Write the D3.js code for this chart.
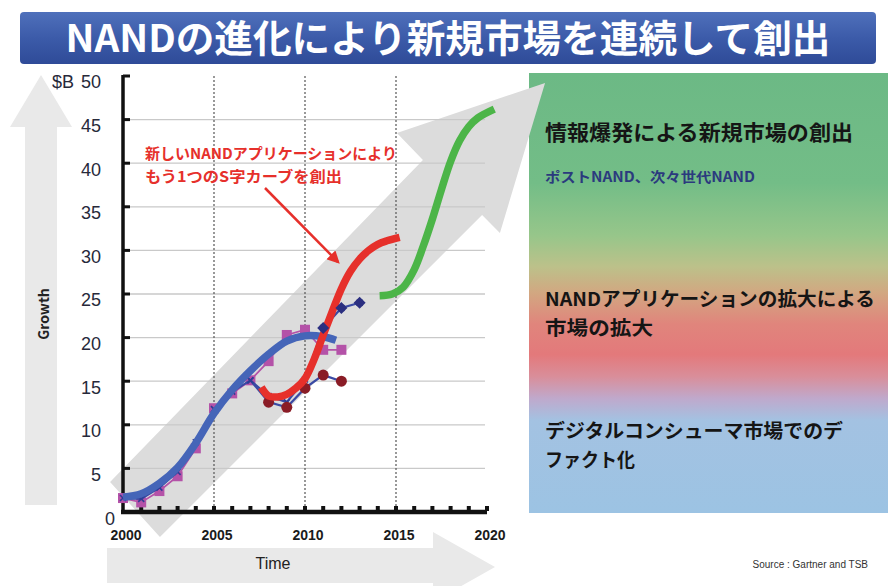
<!DOCTYPE html>
<meta charset="utf-8">
<style>
  body { margin: 0; background: #fff; }
  svg { display: block; }
  .num { font-family: "Liberation Sans Narrow", "Arial Narrow", "Liberation Sans", sans-serif; }
  .jp { font-family: "Noto Sans CJK JP", "Noto Sans", sans-serif; font-weight: 700; }
  .grid line { stroke: #c9c9c9; stroke-width: 1.3; }
  .vdash line { stroke: #555; stroke-width: 1.2; stroke-dasharray: 2 2; }
</style>
<body>
</body>
<script src="https://cdn.jsdelivr.net/npm/d3@7"></script>
<script>
  const W = 888, H = 586;

  // axis ticks
  const yTicks = [0, 5, 10, 15, 20, 25, 30, 35, 40, 45, 50];
  const xLabels = [2000, 2005, 2010, 2015, 2020];
  const xMinor = d3.range(2000, 2021);

  // thick trend curves (year, $B)
  const blueYears = [2000, 2001, 2002, 2003, 2004, 2005, 2006, 2007, 2008, 2009, 2010, 2011, 2011.7];
  const blueValues = [1.7, 2.1, 3.3, 5.1, 7.9, 11.3, 14.0, 16.2, 18.1, 19.6, 20.2, 20.1, 19.7];
  const redYears = [2007.6, 2008, 2008.5, 2009, 2009.5, 2010, 2010.5, 2011, 2011.5, 2012, 2012.5, 2013, 2013.5, 2014, 2014.5, 2015.2];
  const redValues = [14.3, 13.3, 13.2, 13.5, 14.2, 15.3, 17.5, 20.3, 23.0, 25.6, 27.6, 29.0, 30.0, 30.7, 31.1, 31.5];
  const greenYears = [2014.1, 2014.8, 2015.4, 2016, 2016.5, 2017, 2017.5, 2018, 2018.5, 2019, 2019.5, 2020.4];
  const greenValues = [24.8, 25.0, 25.8, 27.8, 30.5, 33.6, 37.0, 40.2, 42.6, 44.2, 45.2, 46.2];

  // marker series
  const magentaYears = d3.range(2000, 2013);
  const magentaValues = [1.6, 1.1, 2.4, 4.1, 7.3, 11.9, 13.6, 15.1, 17.3, 20.3, 20.9, 18.6, 18.6];
  const navyYears = d3.range(2000, 2014);
  const navyValues = [1.6, 1.5, 2.8, 4.6, 8.0, 11.8, 13.8, 15.1, 13.3, 12.6, 15.2, 21.1, 23.4, 24.0];
  const diamondYears = [2011, 2012, 2013];
  const diamondValues = [21.1, 23.4, 24.0];
  const maroonYears = [2007, 2008, 2009, 2010, 2011, 2012];
  const maroonValues = [15.1, 12.6, 12.0, 14.2, 15.7, 15.0];

  // big diagonal arrow outline in (year, $B)
  const bigArrow = [[1999.29, 3.44], [2016.48, 40.37], [2015.05, 43.46], [2023.19, 49.2],
                    [2020.71, 32.0], [2019.73, 34.06], [2002.03, -2.87]];

  const svg = d3.select('body').append('svg').attr('width', W).attr('height', H);
  const defs = svg.append('defs');

  const x = d3.scaleLinear().domain([2000, 2020]).range([123, 487]);
  const y = d3.scaleLinear().domain([0, 50]).range([512, 76]);

  // title banner
  const tg = defs.append('linearGradient').attr('id', 'tg').attr('x1', 0).attr('y1', 0).attr('x2', 0).attr('y2', 1);
  tg.append('stop').attr('offset', 0).attr('stop-color', '#4f70bb');
  tg.append('stop').attr('offset', 0.5).attr('stop-color', '#3c5ba9');
  tg.append('stop').attr('offset', 1).attr('stop-color', '#2f4b98');
  svg.append('rect').attr('x', 20).attr('y', 12).attr('width', 856).attr('height', 52)
    .attr('rx', 4).attr('fill', 'url(#tg)');
  svg.append('text').attr('class', 'jp').attr('x', 448).attr('y', 38).attr('dy', '0.36em')
    .attr('text-anchor', 'middle').attr('fill', '#fff').attr('font-size', 38)
    .attr('textLength', 765).attr('lengthAdjust', 'spacingAndGlyphs')
    .text('NANDの進化により新規市場を連続して創出');

  // side panel with vertical colour gradient
  const pg = defs.append('linearGradient').attr('id', 'pg').attr('x1', 0).attr('y1', 0).attr('x2', 0).attr('y2', 1);
  [[0, '#6cb985'], [0.25, '#73bd87'], [0.37, '#97c68a'], [0.44, '#bcc18a'], [0.5, '#d2a781'],
   [0.57, '#e0857c'], [0.64, '#e3797b'], [0.69, '#d98e9a'], [0.74, '#bfa9cc'], [0.79, '#a3c2e2'], [1, '#9cc3e3']]
    .forEach(([o, c]) => pg.append('stop').attr('offset', o).attr('stop-color', c));
  svg.append('rect').attr('x', 529).attr('y', 73).attr('width', W - 529).attr('height', 440).attr('fill', 'url(#pg)');

  const panelText = [
    {t: '情報爆発による新規市場の創出', y: 132, s: 21, len: 308, c: '#151515'},
    {t: 'ポストNAND、次々世代NAND', y: 177, s: 14, len: 210, c: '#2b3a7e'},
    {t: 'NANDアプリケーションの拡大による', y: 299, s: 19, len: 330, c: '#151515'},
    {t: '市場の拡大', y: 328, s: 19, len: 108, c: '#151515'},
    {t: 'デジタルコンシューマ市場でのデ', y: 431, s: 19, len: 298, c: '#151515'},
    {t: 'ファクト化', y: 460, s: 19, len: 90, c: '#151515'},
  ];
  svg.append('g').selectAll('text').data(panelText).join('text')
    .attr('class', 'jp').attr('x', 545).attr('y', d => d.y).attr('dy', '0.36em')
    .attr('font-size', d => d.s).attr('fill', d => d.c)
    .attr('textLength', d => d.len).attr('lengthAdjust', 'spacingAndGlyphs')
    .text(d => d.t);

  // left "Growth" arrow and bottom "Time" arrow
  svg.append('path').attr('fill', '#e9e9e9')
    .attr('d', 'M25,505 L25,127 L10,127 L41,75 L72,127 L57,127 L57,505 Z');
  svg.append('text').attr('class', 'jp').attr('transform', 'translate(44,314) rotate(-90)')
    .attr('text-anchor', 'middle').attr('dy', '0.36em').attr('font-size', 14)
    .attr('fill', '#222').text('Growth');
  svg.append('path').attr('fill', '#e9e9e9')
    .attr('d', 'M107,548 L433,548 L433,532 L495,567 L433,602 L433,583 L107,583 Z');
  svg.append('text').attr('x', 273).attr('y', 563).attr('dy', '0.36em')
    .attr('text-anchor', 'middle').attr('font-size', 16)
    .attr('font-family', 'Liberation Sans, sans-serif').attr('fill', '#222').text('Time');

  // big diagonal arrow
  svg.append('path').attr('fill', '#dcdcdc')
    .attr('d', d3.line().x(d => x(d[0])).y(d => y(d[1]))(bigArrow) + 'Z');

  // grid
  svg.append('g').attr('class', 'grid').selectAll('line')
    .data(yTicks.filter(v => v > 0 && v < 50)).join('line')
    .attr('x1', x(2000)).attr('x2', x(2020) - 2)
    .attr('y1', d => y(d)).attr('y2', d => y(d));
  svg.append('g').attr('class', 'vdash').selectAll('line')
    .data([2005, 2010, 2015]).join('line')
    .attr('x1', d => x(d)).attr('x2', d => x(d))
    .attr('y1', y(50)).attr('y2', y(0));

  // axes
  const ax = svg.append('g');
  ax.append('line').attr('x1', x(2000)).attr('x2', x(2000)).attr('y1', y(50) - 1).attr('y2', y(0) + 2)
    .attr('stroke', '#111').attr('stroke-width', 3.5);
  ax.selectAll('rect.yt').data(yTicks.filter(v => v > 0)).join('rect').attr('class', 'yt')
    .attr('x', x(2000)).attr('y', d => y(d) - 1.5).attr('width', 7).attr('height', 3).attr('fill', '#111');
  ax.append('line').attr('x1', x(2000) - 2).attr('x2', x(2020)).attr('y1', y(0)).attr('y2', y(0))
    .attr('stroke', '#111').attr('stroke-width', 4.5);
  ax.selectAll('rect.xt').data(xMinor.filter(v => v > 2000)).join('rect').attr('class', 'xt')
    .attr('x', d => x(d) - 2).attr('y', y(0) - 6).attr('width', 4).attr('height', 5).attr('fill', '#111');

  svg.append('g').attr('class', 'num').selectAll('text').data(yTicks).join('text')
    .attr('x', d => d === 0 ? 115 : 101).attr('y', d => d === 0 ? y(0) + 7 : y(d) + 6)
    .attr('dy', '0.36em').attr('text-anchor', 'end').attr('font-size', 18).attr('fill', '#27293a')
    .text(d => d);
  svg.append('text').attr('class', 'num').attr('x', 52).attr('y', y(50) + 6).attr('dy', '0.36em')
    .attr('font-size', 18).attr('fill', '#27293a').text('$B');
  svg.append('g').attr('class', 'num').selectAll('text').data(xLabels).join('text')
    .attr('x', d => x(d) + 3).attr('y', 535).attr('dy', '0.36em').attr('text-anchor', 'middle')
    .attr('font-size', 14).attr('font-weight', 700).attr('fill', '#1b1b1b').text(d => d);

  // marker series
  const line = d3.line().x(d => x(d[0])).y(d => y(d[1]));
  const zip = (a, b) => a.map((v, i) => [v, b[i]]);

  const mag = zip(magentaYears, magentaValues);
  svg.append('path').attr('d', line(mag)).attr('fill', 'none').attr('stroke', '#b452a8').attr('stroke-width', 1.8);
  svg.append('g').selectAll('rect').data(mag).join('rect')
    .attr('x', d => x(d[0]) - 5).attr('y', d => y(d[1]) - 5).attr('width', 10).attr('height', 10)
    .attr('fill', '#b452a8');

  const navy = zip(navyYears, navyValues);
  const maroon = zip(maroonYears, maroonValues);
  [navy, maroon].forEach(s => {
    svg.append('path').attr('d', line(s)).attr('fill', 'none').attr('stroke', '#3a4aa4').attr('stroke-width', 2.2);
    svg.append('g').selectAll('path').data(s).join('path')
      .attr('d', d => `M${x(d[0]) - 3},${y(d[1]) - 3}l6,6m0,-6l-6,6`)
      .attr('stroke', '#2f3c95').attr('stroke-width', 1.6);
  });
  svg.append('g').selectAll('circle').data(maroon.slice(1)).join('circle')
    .attr('cx', d => x(d[0])).attr('cy', d => y(d[1])).attr('r', 5.5).attr('fill', '#8a1c26');

  // thick curves
  const smooth = d3.line().x(d => x(d[0])).y(d => y(d[1])).curve(d3.curveCatmullRom.alpha(0.5));
  [[zip(blueYears, blueValues), '#4565b8'],
   [zip(redYears, redValues), '#e6302b'],
   [zip(greenYears, greenValues), '#4cb548']].forEach(([s, c]) => {
    svg.append('path').attr('d', smooth(s)).attr('fill', 'none').attr('stroke', c)
      .attr('stroke-width', 7.5).attr('stroke-linecap', 'butt');
  });

  svg.append('g').selectAll('path').data(zip(diamondYears, diamondValues)).join('path')
    .attr('d', d => `M${x(d[0])},${y(d[1]) - 6}l6,6l-6,6l-6,-6Z`).attr('fill', '#2b2f80');

  // red annotation
  defs.append('marker').attr('id', 'ah').attr('viewBox', '0 0 10 10').attr('refX', 8).attr('refY', 5)
    .attr('markerWidth', 5).attr('markerHeight', 5).attr('orient', 'auto')
    .append('path').attr('d', 'M0,0L10,5L0,10Z').attr('fill', '#e6302b');
  svg.append('line').attr('x1', 265).attr('y1', 188).attr('x2', 338).attr('y2', 262)
    .attr('stroke', '#e6302b').attr('stroke-width', 2.5).attr('marker-end', 'url(#ah)');
  const note = [
    {t: '新しいNANDアプリケーションにより', y: 154, len: 252},
    {t: 'もう1つのS字カーブを創出', y: 177, len: 197},
  ];
  svg.append('g').selectAll('text').data(note).join('text')
    .attr('class', 'jp').attr('x', 145).attr('y', d => d.y).attr('dy', '0.36em')
    .attr('font-size', 15).attr('fill', '#e6302b')
    .attr('textLength', d => d.len).attr('lengthAdjust', 'spacingAndGlyphs').text(d => d.t);

  svg.append('text').attr('x', 868).attr('y', 564).attr('dy', '0.36em').attr('text-anchor', 'end')
    .attr('font-size', 10).attr('font-family', 'Liberation Sans, sans-serif').attr('fill', '#333')
    .text('Source : Gartner and TSB');
</script>
